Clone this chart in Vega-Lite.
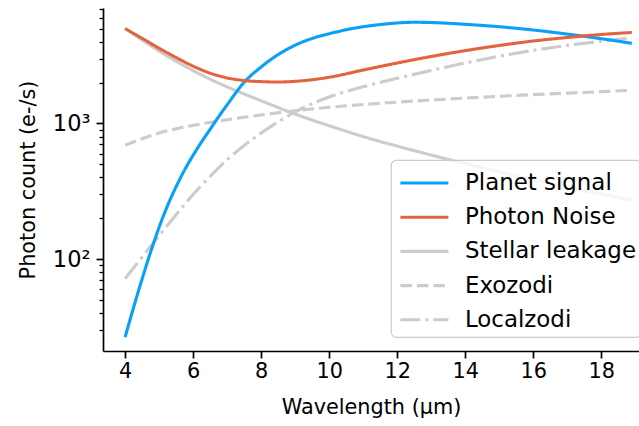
{
  "$schema": "https://vega.github.io/schema/vega-lite/v6.json",
  "autosize": {"type": "none"},
  "padding": {"left": 103, "top": 8, "right": 0, "bottom": 75},
  "width": 536,
  "height": 343,
  "background": "white",
  "config": {
    "view": {"stroke": null},
    "axis": {
      "domainColor": "black", "domainWidth": 1.7,
      "tickColor": "black", "tickWidth": 1.7,
      "labelFont": "DejaVu Sans", "labelFontSize": 20.8, "labelColor": "black",
      "titleFont": "DejaVu Sans", "titleFontSize": 20.8, "titleFontWeight": "normal", "titleColor": "black",
      "grid": false
    },
    "legend": {
      "orient": "none", "legendX": 288, "legendY": 152,
      "fillColor": "rgba(255,255,255,0.8)", "strokeColor": "#cccccc", "strokeWidth": 1.2,
      "cornerRadius": 5, "padding": 5,
      "labelFont": "DejaVu Sans", "labelFontSize": 22.9, "labelColor": "black", "labelLimit": 400,
      "symbolType": "M-0.85,0H2.15", "symbolSize": 1024, "symbolStrokeWidth": 3.1,
      "labelOffset": 33, "rowPadding": 4.2
    }
  },
  "data": {"values": [
    {"x": 4, "v": 26.7, "s": "Planet signal"},
    {"x": 4.25, "v": 44.2, "s": "Planet signal"},
    {"x": 4.5, "v": 71.6, "s": "Planet signal"},
    {"x": 4.75, "v": 113, "s": "Planet signal"},
    {"x": 5, "v": 172, "s": "Planet signal"},
    {"x": 5.25, "v": 249, "s": "Planet signal"},
    {"x": 5.5, "v": 342, "s": "Planet signal"},
    {"x": 5.75, "v": 455, "s": "Planet signal"},
    {"x": 6, "v": 583, "s": "Planet signal"},
    {"x": 6.25, "v": 732, "s": "Planet signal"},
    {"x": 6.5, "v": 906, "s": "Planet signal"},
    {"x": 6.75, "v": 1120, "s": "Planet signal"},
    {"x": 7, "v": 1371, "s": "Planet signal"},
    {"x": 7.5, "v": 2009, "s": "Planet signal"},
    {"x": 8, "v": 2606, "s": "Planet signal"},
    {"x": 8.5, "v": 3214, "s": "Planet signal"},
    {"x": 9, "v": 3767, "s": "Planet signal"},
    {"x": 9.5, "v": 4227, "s": "Planet signal"},
    {"x": 10, "v": 4571, "s": "Planet signal"},
    {"x": 10.5, "v": 4898, "s": "Planet signal"},
    {"x": 11, "v": 5152, "s": "Planet signal"},
    {"x": 11.5, "v": 5346, "s": "Planet signal"},
    {"x": 12, "v": 5495, "s": "Planet signal"},
    {"x": 12.5, "v": 5559, "s": "Planet signal"},
    {"x": 13, "v": 5534, "s": "Planet signal"},
    {"x": 14, "v": 5370, "s": "Planet signal"},
    {"x": 15, "v": 5152, "s": "Planet signal"},
    {"x": 16, "v": 4875, "s": "Planet signal"},
    {"x": 17, "v": 4550, "s": "Planet signal"},
    {"x": 18, "v": 4207, "s": "Planet signal"},
    {"x": 18.9, "v": 3890, "s": "Planet signal"},

    {"x": 4, "v": 5000, "s": "Photon Noise"},
    {"x": 4.5, "v": 4236, "s": "Photon Noise"},
    {"x": 5, "v": 3581, "s": "Photon Noise"},
    {"x": 5.5, "v": 3055, "s": "Photon Noise"},
    {"x": 6, "v": 2642, "s": "Photon Noise"},
    {"x": 6.5, "v": 2344, "s": "Photon Noise"},
    {"x": 7, "v": 2163, "s": "Photon Noise"},
    {"x": 7.5, "v": 2070, "s": "Photon Noise"},
    {"x": 8, "v": 2032, "s": "Photon Noise"},
    {"x": 8.5, "v": 2018, "s": "Photon Noise"},
    {"x": 9, "v": 2042, "s": "Photon Noise"},
    {"x": 9.5, "v": 2099, "s": "Photon Noise"},
    {"x": 10, "v": 2188, "s": "Photon Noise"},
    {"x": 11, "v": 2472, "s": "Photon Noise"},
    {"x": 12, "v": 2786, "s": "Photon Noise"},
    {"x": 13, "v": 3112, "s": "Photon Noise"},
    {"x": 14, "v": 3436, "s": "Photon Noise"},
    {"x": 15, "v": 3750, "s": "Photon Noise"},
    {"x": 16, "v": 4046, "s": "Photon Noise"},
    {"x": 17, "v": 4295, "s": "Photon Noise"},
    {"x": 18, "v": 4519, "s": "Photon Noise"},
    {"x": 18.9, "v": 4677, "s": "Photon Noise"},

    {"x": 4, "v": 5000, "s": "Stellar leakage"},
    {"x": 4.5, "v": 4111, "s": "Stellar leakage"},
    {"x": 5, "v": 3412, "s": "Stellar leakage"},
    {"x": 5.5, "v": 2871, "s": "Stellar leakage"},
    {"x": 6, "v": 2449, "s": "Stellar leakage"},
    {"x": 6.5, "v": 2118, "s": "Stellar leakage"},
    {"x": 7, "v": 1858, "s": "Stellar leakage"},
    {"x": 7.5, "v": 1648, "s": "Stellar leakage"},
    {"x": 8, "v": 1469, "s": "Stellar leakage"},
    {"x": 8.5, "v": 1309, "s": "Stellar leakage"},
    {"x": 9, "v": 1172, "s": "Stellar leakage"},
    {"x": 9.5, "v": 1059, "s": "Stellar leakage"},
    {"x": 10, "v": 962, "s": "Stellar leakage"},
    {"x": 11, "v": 800, "s": "Stellar leakage"},
    {"x": 12, "v": 681, "s": "Stellar leakage"},
    {"x": 13, "v": 585, "s": "Stellar leakage"},
    {"x": 14, "v": 506, "s": "Stellar leakage"},
    {"x": 15, "v": 441, "s": "Stellar leakage"},
    {"x": 16, "v": 386, "s": "Stellar leakage"},
    {"x": 17, "v": 340, "s": "Stellar leakage"},
    {"x": 18, "v": 302, "s": "Stellar leakage"},
    {"x": 18.9, "v": 272, "s": "Stellar leakage"},

    {"x": 4, "v": 692, "s": "Exozodi"},
    {"x": 5, "v": 850, "s": "Exozodi"},
    {"x": 6, "v": 968, "s": "Exozodi"},
    {"x": 7, "v": 1065, "s": "Exozodi"},
    {"x": 8, "v": 1155, "s": "Exozodi"},
    {"x": 9, "v": 1240, "s": "Exozodi"},
    {"x": 10, "v": 1315, "s": "Exozodi"},
    {"x": 11, "v": 1378, "s": "Exozodi"},
    {"x": 12, "v": 1435, "s": "Exozodi"},
    {"x": 13, "v": 1487, "s": "Exozodi"},
    {"x": 14, "v": 1537, "s": "Exozodi"},
    {"x": 15, "v": 1585, "s": "Exozodi"},
    {"x": 16, "v": 1630, "s": "Exozodi"},
    {"x": 17, "v": 1673, "s": "Exozodi"},
    {"x": 18, "v": 1715, "s": "Exozodi"},
    {"x": 18.9, "v": 1755, "s": "Exozodi"},

    {"x": 4, "v": 72, "s": "Localzodi"},
    {"x": 4.5, "v": 104, "s": "Localzodi"},
    {"x": 5, "v": 149, "s": "Localzodi"},
    {"x": 5.5, "v": 213, "s": "Localzodi"},
    {"x": 6, "v": 300, "s": "Localzodi"},
    {"x": 6.5, "v": 407, "s": "Localzodi"},
    {"x": 7, "v": 540, "s": "Localzodi"},
    {"x": 7.5, "v": 687, "s": "Localzodi"},
    {"x": 8, "v": 851, "s": "Localzodi"},
    {"x": 8.5, "v": 1028, "s": "Localzodi"},
    {"x": 9, "v": 1216, "s": "Localzodi"},
    {"x": 10, "v": 1567, "s": "Localzodi"},
    {"x": 11, "v": 1862, "s": "Localzodi"},
    {"x": 12, "v": 2148, "s": "Localzodi"},
    {"x": 13, "v": 2455, "s": "Localzodi"},
    {"x": 14, "v": 2786, "s": "Localzodi"},
    {"x": 15, "v": 3126, "s": "Localzodi"},
    {"x": 16, "v": 3451, "s": "Localzodi"},
    {"x": 17, "v": 3758, "s": "Localzodi"},
    {"x": 18, "v": 4027, "s": "Localzodi"},
    {"x": 18.9, "v": 4285, "s": "Localzodi"}
  ]},
  "encoding": {
    "x": {
      "field": "x", "type": "quantitative",
      "scale": {"domain": [3.35, 19.11], "nice": false, "zero": false},
      "axis": {"title": "Wavelength (µm)", "values": [4, 6, 8, 10, 12, 14, 16, 18], "tickSize": 7, "labelPadding": 3, "titlePadding": 17, "labelFlush": false}
    },
    "y": {
      "field": "v", "type": "quantitative",
      "scale": {"type": "log", "domain": [21.1, 7080], "nice": false},
      "axis": {
        "title": "Photon count (e-/s)",
        "values": [30, 40, 50, 60, 70, 80, 90, 100, 200, 300, 400, 500, 600, 700, 800, 900, 1000, 2000, 3000, 4000, 5000, 6000, 7000],
        "labelExpr": "datum.value == 100 ? '10²' : datum.value == 1000 ? '10³' : ''",
        "labelFontSize": 22.5,
        "tickSize": {"condition": {"test": "datum.value == 100 || datum.value == 1000", "value": 7}, "value": 4},
        "tickWidth": {"condition": {"test": "datum.value == 100 || datum.value == 1000", "value": 1.7}, "value": 1.3},
        "labelPadding": 6, "titlePadding": 14, "labelFlush": false
      }
    },
    "color": {
      "field": "s", "type": "nominal",
      "scale": {"domain": ["Planet signal", "Photon Noise", "Stellar leakage", "Exozodi", "Localzodi"],
                "range": ["#0aa0fa", "#e2643f", "#cccccc", "#cccccc", "#cccccc"]},
      "legend": {"title": null}
    },
    "strokeDash": {
      "field": "s", "type": "nominal",
      "scale": {"domain": ["Planet signal", "Photon Noise", "Stellar leakage", "Exozodi", "Localzodi"],
                "range": [[1, 0], [1, 0], [1, 0], [11.5, 5], [20, 5, 3, 5]]},
      "legend": {"title": null}
    }
  },
  "layer": [
    {
      "transform": [{"filter": "datum.s == 'Stellar leakage' || datum.s == 'Exozodi' || datum.s == 'Localzodi'"}],
      "mark": {"type": "line", "strokeWidth": 3.1, "interpolate": "monotone", "strokeCap": "butt"}
    },
    {
      "transform": [{"filter": "datum.s == 'Planet signal' || datum.s == 'Photon Noise'"}],
      "mark": {"type": "line", "strokeWidth": 3.1, "interpolate": "monotone", "strokeCap": "butt"}
    }
  ]
}
